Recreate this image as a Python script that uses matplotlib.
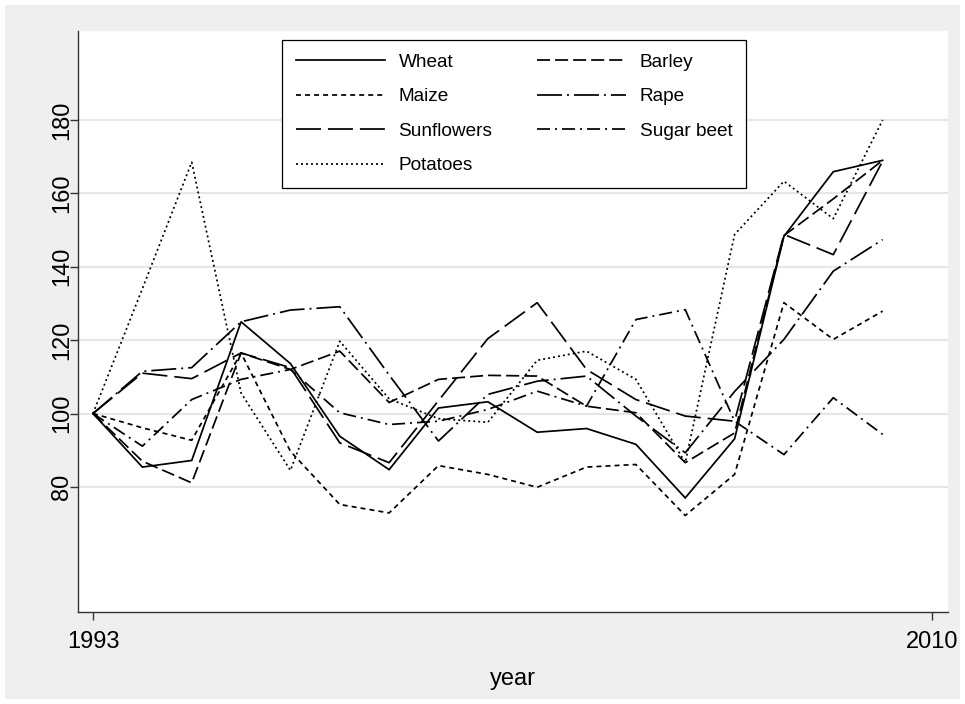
import matplotlib
matplotlib.use("Agg")
import matplotlib.pyplot as plt
from matplotlib.patches import Rectangle

plt.rcParams['font.family'] = ['Liberation Sans', 'DejaVu Sans']
plt.rcParams['lines.scale_dashes'] = False

years = list(range(1993, 2010))
wheat = [100, 85.4, 87.2, 125, 113.6, 93.8, 84.7, 101.5, 103.2, 94.9, 95.9, 91.6, 77.0, 93.1, 148.3, 165.9, 169.0]
barley = [100, 87, 81.1, 116.5, 112, 117, 103, 109.3, 110.4, 110.2, 102, 100.2, 86.6, 94.7, 148.5, 158.5, 169.0]
maize = [100, 96.1, 92.7, 116.5, 89.7, 75.2, 72.9, 85.8, 83.4, 79.9, 85.4, 86.1, 72.2, 83.4, 130.2, 120.2, 127.9]
rape = [100, 111.5, 112.5, 125, 128.2, 129.1, 110.5, 92.5, 105.2, 108.8, 110.2, 99.3, 89.3, 106, 120.2, 138.8, 147.4]
sunflowers = [100, 111, 109.5, 116.5, 112.5, 92, 86.6, 103.5, 120.4, 130.2, 112, 103.8, 99.3, 97.9, 148.8, 143.3, 168.8]
sugar_beet = [100, 91.1, 103.8, 109.3, 112, 100.2, 97, 97.9, 101.1, 106.1, 102, 125.6, 128.3, 97.9, 88.8, 104.3, 94.3]
potatoes = [100, 134, 168.5, 105.6, 84.5, 119.7, 104, 98.6, 97.6, 114.5, 117, 109.3, 86.6, 148.8, 163.3, 153.1, 180]

labels = ["Wheat", "Barley", "Maize", "Rape", "Sunflowers", "Sugar beet", "Potatoes"]
series = [wheat, barley, maize, rape, sunflowers, sugar_beet, potatoes]
dashes = [None, (9.4, 3.6), (3.6, 2.9), (18, 3.6, 1.4, 3.6), (18, 5.0), (9.4, 3.6, 1.4, 3.6), (1.4, 2.2)]

yticks = [80, 100, 120, 140, 160, 180]
xticks = [1993, 2010]

W, H = 965, 704
fig = plt.figure(figsize=(W / 100, H / 100), dpi=100)
fig.patch.set_facecolor('white')
fig.patches.append(Rectangle((5 / W, 5 / H), (W - 10) / W, (H - 10) / H, transform=fig.transFigure,
                             facecolor='#efefef', edgecolor='none', zorder=-10))

L, R, T, B = 78, 948, 31, 612
ax = fig.add_axes([L / W, 1 - B / H, (R - L) / W, (B - T) / H])
ax.set_facecolor('white')

handles = {}
for vals, lab, d in zip(series, labels, dashes):
    ln, = ax.plot(years, vals, color='black', lw=1.25, label=lab, solid_joinstyle='miter')
    if d is not None:
        ln.set_dashes(d)
    handles[lab] = ln

ax.set_xlim(1992.696, 2010.324)
ax.set_ylim(45.9, 204.25)
ax.set_yticks(yticks)
ax.set_xticks(xticks)
ax.set_yticklabels([str(v) for v in yticks], rotation=90, va='center', fontsize=17)
ax.set_xticklabels([str(v) for v in xticks], fontsize=17)
ax.tick_params(axis='both', length=5.8, width=1, color='#333333')
ax.tick_params(axis='x', pad=8)
ax.tick_params(axis='y', pad=-2.5)
ax.grid(axis='y', color='#e6e6e6', lw=1.6)
ax.set_axisbelow(True)
for s in ['top', 'right']:
    ax.spines[s].set_visible(False)
for s in ['left', 'bottom']:
    ax.spines[s].set_color('#333333')
    ax.spines[s].set_linewidth(1.0)
ax.set_xlabel('year', fontsize=17, labelpad=11)

order = ["Wheat", "Maize", "Sunflowers", "Potatoes", "Barley", "Rape", "Sugar beet"]
leg = ax.legend([handles[k] for k in order], order, ncol=2, loc='upper left', mode='expand',
                bbox_to_anchor=(282 / W, 1 - 40 / H, (746 - 282) / W, 0.0001),
                bbox_transform=fig.transFigure, fontsize=13.7, frameon=True, fancybox=False,
                edgecolor='black', framealpha=1, handlelength=4.7, handletextpad=0.7,
                labelspacing=0.9, borderpad=0.72, borderaxespad=0)
leg.get_frame().set_linewidth(0.9)

fig.savefig('out.png', dpi=100)
